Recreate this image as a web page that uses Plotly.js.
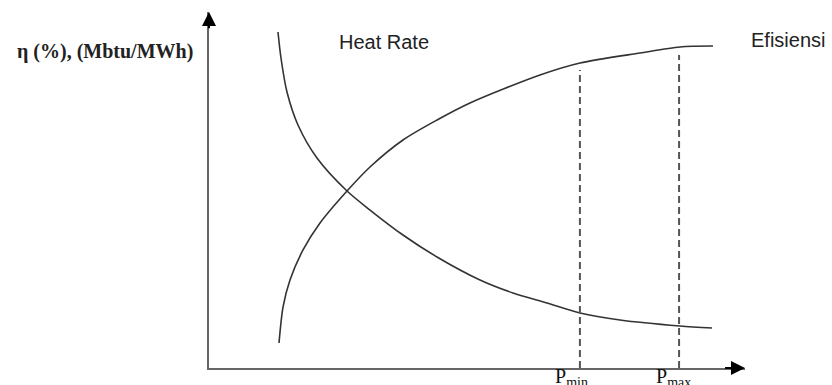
<!DOCTYPE html>
<html>
<head>
<meta charset="utf-8">
<script src="https://cdn.plot.ly/plotly-3.0.1.min.js"></script>
<style>html,body{margin:0;padding:0;background:#fff;}#chart{width:832px;height:385px;}</style>
</head>
<body>
<div id="chart"></div>
<script>
// Power output (arbitrary units, 0..100) and curve values (arbitrary units, 0..100)
const heatRateX = [12.87, 13.43, 14.55, 16.60, 20.15, 25.75, 30.04, 36.19, 42.54, 50.56, 56.72, 63.06, 69.22, 76.68, 87.87, 93.84];
const heatRateY = [94.38, 87.08, 77.53, 68.26, 58.99, 49.72, 44.38, 37.36, 31.18, 24.72, 21.07, 18.26, 15.45, 13.48, 11.80, 11.24];
const efisiensiX = [13.06, 13.81, 15.11, 17.54, 20.71, 25.75, 30.04, 36.19, 42.54, 48.69, 61.75, 69.22, 80.41, 87.87, 94.03];
const efisiensiY = [7.02, 17.13, 24.72, 33.15, 40.73, 49.72, 56.46, 64.04, 69.66, 74.44, 82.30, 85.67, 88.48, 90.17, 90.45];
const limitX = [69.2, 87.7];
const limitTop = [83.7, 87.9];
const limitLabels = ['P<sub>min</sub>', 'P<sub>max</sub>'];
const curveLabels = ['Heat Rate', 'Efisiensi'];
const yLabel = 'η (%), (Mbtu/MWh)';

const lineColor = '#333';
const traces = [
  {x: heatRateX, y: heatRateY, mode: 'lines', line: {color: lineColor, width: 1.6, shape: 'spline', smoothing: 0.8}, hoverinfo: 'skip'},
  {x: efisiensiX, y: efisiensiY, mode: 'lines', line: {color: lineColor, width: 1.6, shape: 'spline', smoothing: 0.8}, hoverinfo: 'skip'}
];
limitX.forEach((lx, i) => {
  traces.push({x: [lx, lx], y: [0, limitTop[i]], mode: 'lines',
    line: {color: '#555', width: 2, dash: '7px,4px'}, hoverinfo: 'skip'});
});

const annotations = [
  {x: -0.026, y: 0.888, xref: 'paper', yref: 'paper', xanchor: 'right', yanchor: 'middle', showarrow: false,
   text: '<b>' + yLabel + '</b>', font: {family: 'Liberation Serif', size: 20, color: '#222'}},
  {x: 0.326, y: 0.916, xref: 'paper', yref: 'paper', xanchor: 'center', yanchor: 'middle', showarrow: false,
   text: curveLabels[0], font: {family: 'Liberation Sans', size: 20, color: '#222'}},
  {x: 1.08, y: 0.921, xref: 'paper', yref: 'paper', xanchor: 'center', yanchor: 'middle', showarrow: false,
   text: curveLabels[1], font: {family: 'Liberation Sans', size: 20, color: '#222'}},
  {x: 0.677, y: 0.015, xref: 'paper', yref: 'paper', xanchor: 'center', yanchor: 'top', showarrow: false,
   text: limitLabels[0], font: {family: 'Liberation Serif', size: 20, color: '#111'}},
  {x: 0.866, y: 0.015, xref: 'paper', yref: 'paper', xanchor: 'center', yanchor: 'top', showarrow: false,
   text: limitLabels[1], font: {family: 'Liberation Serif', size: 20, color: '#111'}},
  // arrowheads on the axes
  {x: 0, y: 100, ax: 0, ay: 95, xref: 'x', yref: 'y', axref: 'x', ayref: 'y', text: '', showarrow: true,
   arrowhead: 2, arrowsize: 1.4, arrowwidth: 2, arrowcolor: '#000', standoff: 0},
  {x: 100, y: 0, ax: 96, ay: 0, xref: 'x', yref: 'y', axref: 'x', ayref: 'y', text: '', showarrow: true,
   arrowhead: 2, arrowsize: 1.4, arrowwidth: 2, arrowcolor: '#000', standoff: 0}
];

const layout = {
  width: 832, height: 385,
  margin: {l: 209, r: 87, t: 12, b: 17, pad: 0},
  paper_bgcolor: '#fff', plot_bgcolor: '#fff',
  showlegend: false,
  xaxis: {range: [0, 100], showgrid: false, zeroline: false, showticklabels: false, ticks: '',
          showline: true, linecolor: '#666', linewidth: 2, fixedrange: true},
  yaxis: {range: [0, 100], showgrid: false, zeroline: false, showticklabels: false, ticks: '',
          showline: true, linecolor: '#666', linewidth: 2, fixedrange: true},
  annotations: annotations
};

Plotly.newPlot('chart', traces, layout, {staticPlot: true, displayModeBar: false});
</script>
</body>
</html>
